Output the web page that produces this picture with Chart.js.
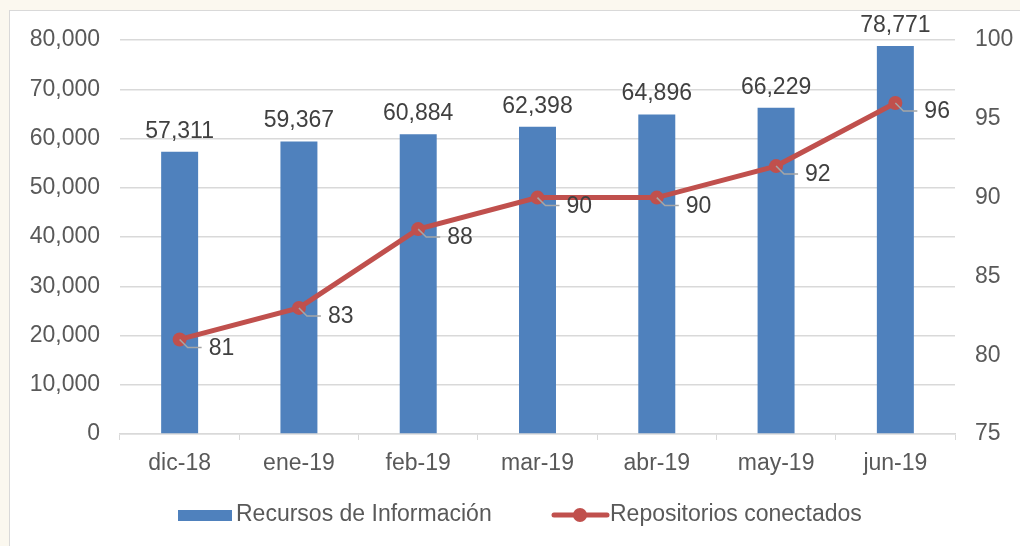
<!DOCTYPE html>
<html>
<head>
<meta charset="utf-8">
<script src="https://cdn.jsdelivr.net/npm/chart.js@4"></script>
<style>
  html, body { margin: 0; padding: 0; background: #ffffff; }
  #wrap { width: 1020px; height: 546px; position: relative; }
</style>
</head>
<body>
<div id="wrap"><canvas id="grafica" width="1020" height="546"></canvas></div>
<script>
// datos
const meses = ['dic-18', 'ene-19', 'feb-19', 'mar-19', 'abr-19', 'may-19', 'jun-19'];
const recursos = [57311, 59367, 60884, 62398, 64896, 66229, 78771];
const repositorios = [81, 83, 88, 90, 90, 92, 96];

const FUENTE = '"Liberation Sans", Arial, sans-serif';
const TAM = 23;
const AZUL = '#4F81BD';
const ROJO = '#C0504D';

// marco gris y fondo
const marcoPlugin = {
    id: 'marco',
    beforeDraw(chart) {
        const ctx = chart.ctx;
        ctx.save();
        ctx.fillStyle = '#fbf8ef';
        ctx.fillRect(0, 0, chart.width, chart.height);
        ctx.fillStyle = '#ffffff';
        ctx.fillRect(9, 10, chart.width - 9, chart.height - 10);
        ctx.strokeStyle = '#d9d9d9';
        ctx.lineWidth = 1;
        ctx.strokeRect(9.5, 10.5, chart.width, chart.height);
        ctx.restore();
    }
};

// etiquetas de datos
const etiquetasPlugin = {
    id: 'etiquetas',
    afterDatasetsDraw(chart) {
        const ctx = chart.ctx;
        ctx.save();
        ctx.font = TAM + 'px ' + FUENTE;
        ctx.fillStyle = '#404040';

        // barras: valor encima
        chart.getDatasetMeta(0).data.forEach((bar, i) => {
            ctx.textAlign = 'center';
            ctx.textBaseline = 'bottom';
            ctx.fillText(recursos[i].toLocaleString('en-US'), bar.x, bar.y - 9);
        });

        // linea: valor a la derecha con guia gris
        chart.getDatasetMeta(1).data.forEach((pt, i) => {
            const x = pt.x, y = pt.y;
            ctx.strokeStyle = '#a6a6a6';
            ctx.lineWidth = 1.5;
            ctx.beginPath();
            ctx.moveTo(x, y);
            ctx.lineTo(x + 8, y + 8);
            ctx.lineTo(x + 22, y + 8);
            ctx.stroke();
            ctx.textAlign = 'left';
            ctx.textBaseline = 'middle';
            ctx.fillText(String(repositorios[i]), x + 29, y + 9);
        });
        ctx.restore();
    }
};

// leyenda propia (caja azul y linea con punto)
const leyendaPlugin = {
    id: 'leyenda',
    afterDraw(chart) {
        const ctx = chart.ctx;
        const y = 515;
        ctx.save();
        ctx.font = TAM + 'px ' + FUENTE;
        ctx.textBaseline = 'middle';
        ctx.textAlign = 'left';

        ctx.fillStyle = AZUL;
        ctx.fillRect(178, y - 5, 54, 11);
        ctx.fillStyle = '#595959';
        ctx.fillText('Recursos de Información', 236, y);

        ctx.strokeStyle = ROJO;
        ctx.lineWidth = 5;
        ctx.lineCap = 'round';
        ctx.beginPath();
        ctx.moveTo(554, y);
        ctx.lineTo(607, y);
        ctx.stroke();
        ctx.fillStyle = ROJO;
        ctx.beginPath();
        ctx.arc(580, y, 7, 0, Math.PI * 2);
        ctx.fill();
        ctx.fillStyle = '#595959';
        ctx.fillText('Repositorios conectados', 610, y);
        ctx.restore();
    }
};

new Chart(document.getElementById('grafica'), {
    type: 'bar',
    data: {
        labels: meses,
        datasets: [{
            type: 'bar',
            label: 'Recursos de Información',
            data: recursos,
            backgroundColor: AZUL,
            yAxisID: 'y',
            barPercentage: 0.31,
            categoryPercentage: 1,
            order: 2
        }, {
            type: 'line',
            label: 'Repositorios conectados',
            data: repositorios,
            borderColor: ROJO,
            backgroundColor: ROJO,
            borderWidth: 5,
            pointRadius: 7,
            pointBackgroundColor: ROJO,
            pointBorderWidth: 0,
            tension: 0,
            yAxisID: 'y1',
            order: 1
        }]
    },
    options: {
        responsive: false,
        animation: false,
        layout: { padding: { top: 40, bottom: 62, left: 0, right: 0 } },
        plugins: {
            legend: { display: false },
            tooltip: { enabled: false }
        },
        scales: {
            x: {
                grid: {
                    offset: true,
                    drawOnChartArea: false,
                    drawTicks: true,
                    tickLength: 6,
                    color: '#d9d9d9'
                },
                border: { color: '#d9d9d9', width: 1.5 },
                ticks: { color: '#595959', font: { family: FUENTE, size: TAM }, padding: 10 },
                afterFit(scale) { scale.height = 50; }
            },
            y: {
                position: 'left',
                min: 0,
                max: 80000,
                ticks: {
                    stepSize: 10000,
                    color: '#595959',
                    font: { family: FUENTE, size: TAM },
                    padding: 20,
                    callback: v => v.toLocaleString('en-US')
                },
                grid: { color: '#d9d9d9', lineWidth: 1.5, drawTicks: false },
                border: { display: false },
                afterFit(scale) { scale.width = 120; }
            },
            y1: {
                position: 'right',
                min: 75,
                max: 100,
                ticks: {
                    stepSize: 5,
                    color: '#595959',
                    font: { family: FUENTE, size: TAM },
                    padding: 20
                },
                grid: { drawOnChartArea: false, drawTicks: false },
                border: { display: false },
                afterFit(scale) { scale.width = 65; }
            }
        }
    },
    plugins: [marcoPlugin, etiquetasPlugin, leyendaPlugin]
});
</script>
</body>
</html>
